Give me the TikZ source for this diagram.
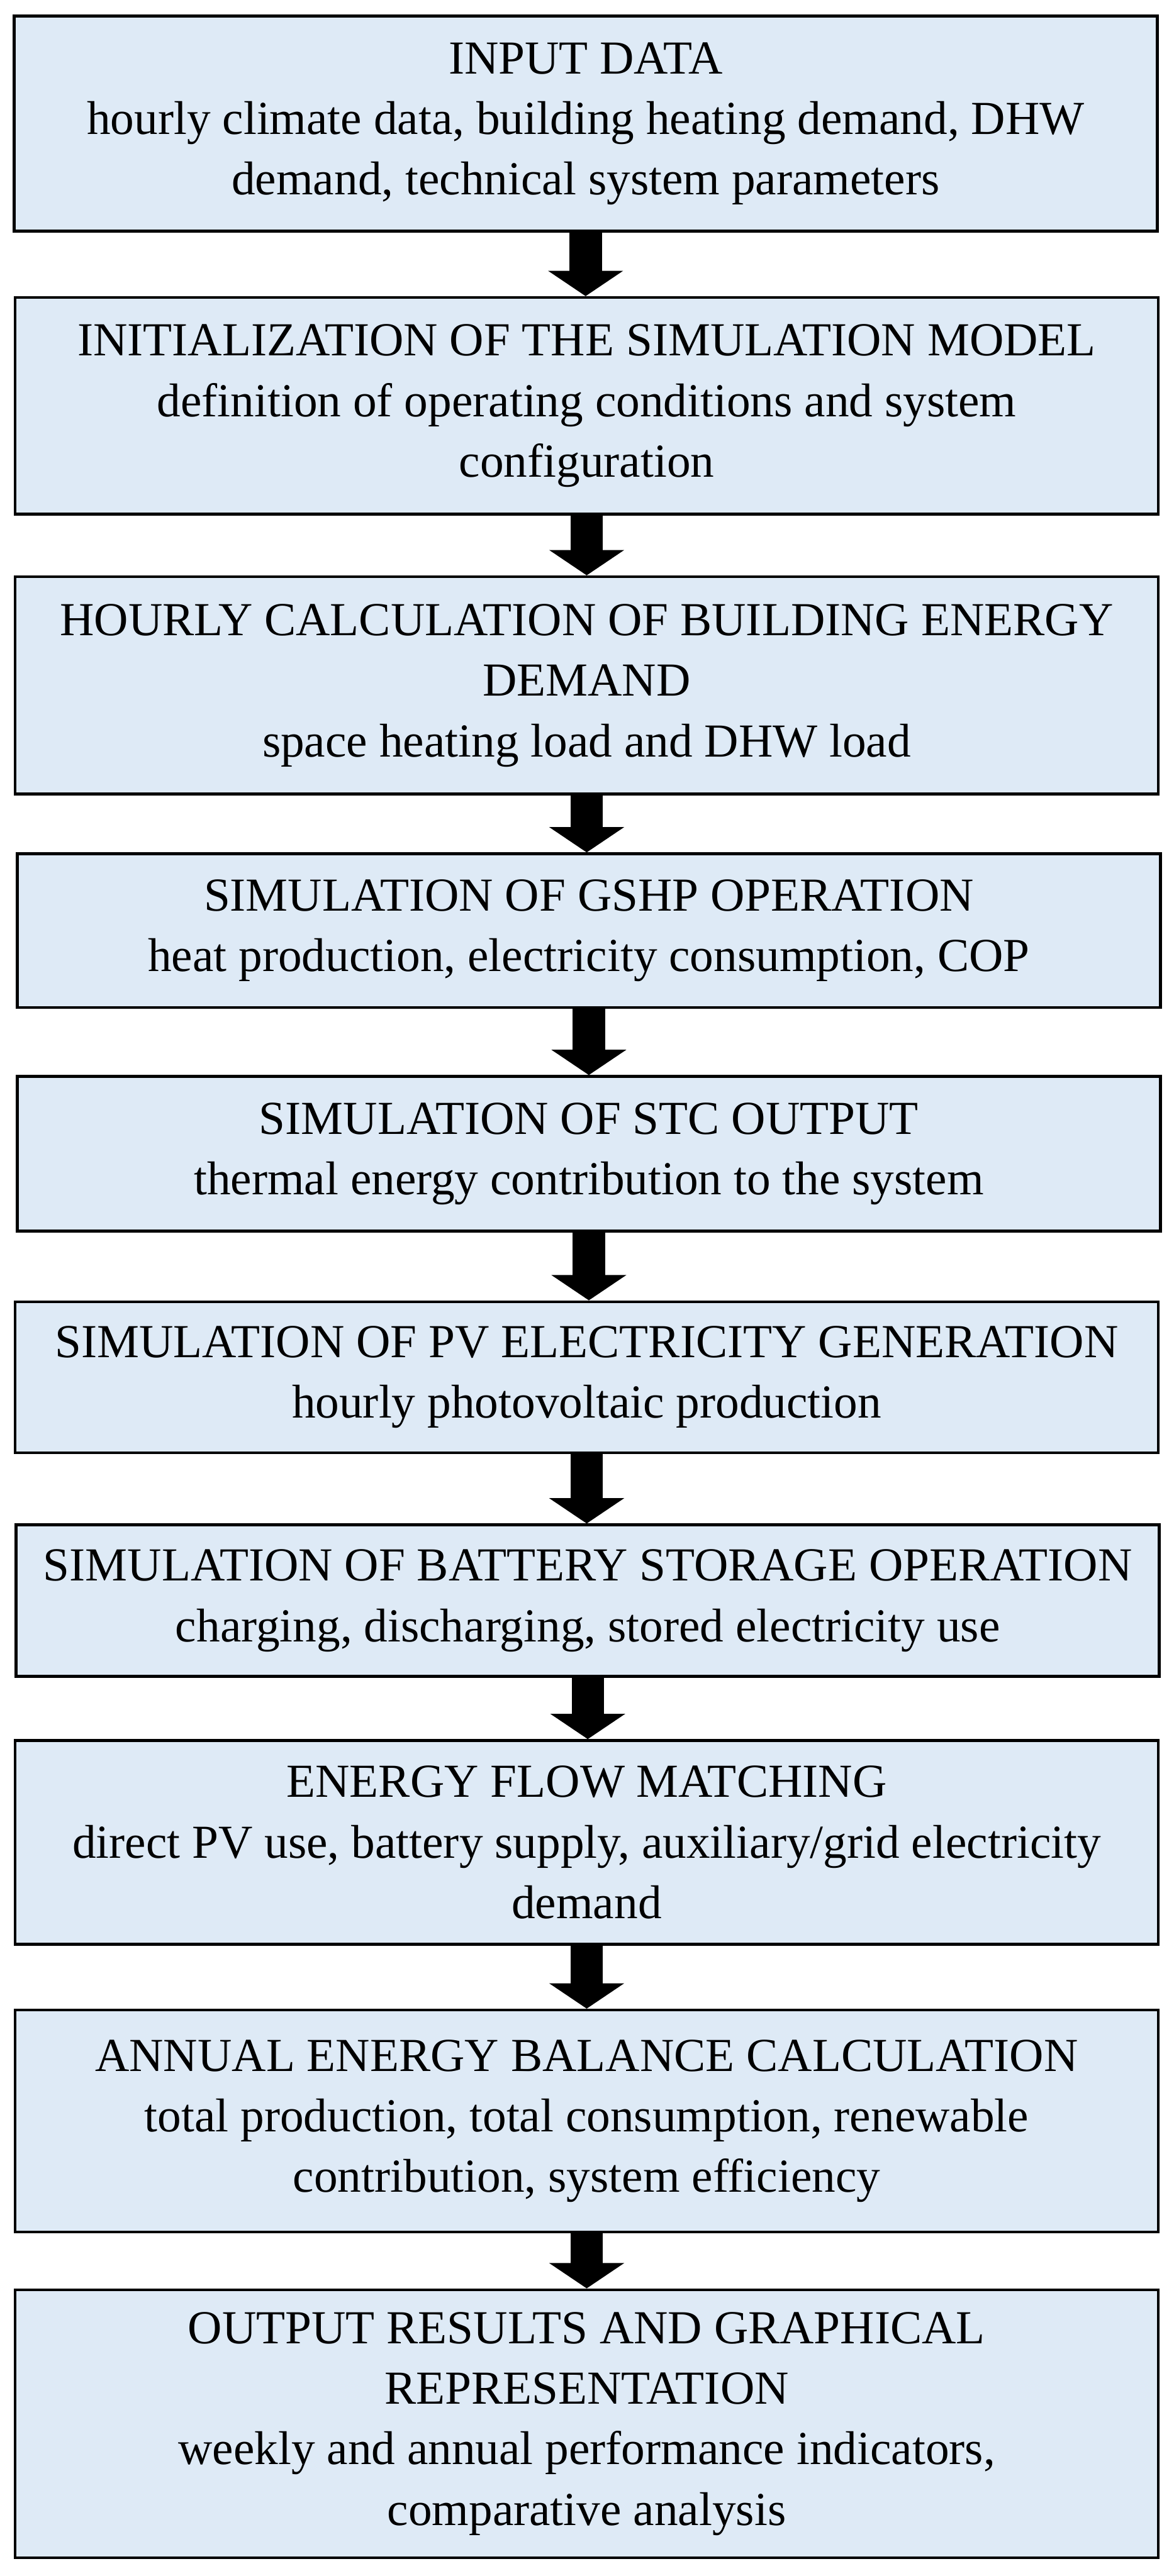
\documentclass[tikz,border=0pt]{standalone}
\usepackage{fontspec}
\setmainfont{Liberation Serif}
\usetikzlibrary{arrows.meta}
\definecolor{stageblue}{HTML}{DEEAF6}

\begin{document}
\begin{tikzpicture}[font=\fontsize{25}{32}\selectfont,
  stage/.style={draw=black, line width=1.5pt, fill=stageblue, align=center, minimum width=21.2cm, inner sep=0pt},
  flow/.style={line width=0.6cm, -{Triangle[width=1.37cm, length=0.47cm]}}]
  \useasboundingbox (0,0) rectangle (21.77,-47.79);
  % etapas del modelo
  \node[stage, minimum height=3.99cm] (input) at (10.86,-2.295) {INPUT DATA\\hourly climate data, building heating demand, DHW\\demand, technical system parameters};
  \node[stage, minimum height=4.02cm] (init) at (10.88,-7.53) {INITIALIZATION OF THE SIMULATION MODEL\\definition of operating conditions and system\\configuration};
  \node[stage, minimum height=4.03cm] (demand) at (10.88,-12.715) {HOURLY CALCULATION OF BUILDING ENERGY\\DEMAND\\space heating load and DHW load};
  \node[stage, minimum height=2.85cm] (gshp) at (10.92,-17.265) {SIMULATION OF GSHP OPERATION\\heat production, electricity consumption, COP};
  \node[stage, minimum height=2.87cm] (stc) at (10.92,-21.405) {SIMULATION OF STC OUTPUT\\thermal energy contribution to the system};
  \node[stage, minimum height=2.80cm] (pv) at (10.88,-25.55) {SIMULATION OF PV ELECTRICITY GENERATION\\hourly photovoltaic production};
  \node[stage, minimum height=2.81cm] (battery) at (10.90,-29.695) {SIMULATION OF BATTERY STORAGE OPERATION\\charging, discharging, stored electricity use};
  \node[stage, minimum height=3.78cm] (matching) at (10.88,-34.18) {ENERGY FLOW MATCHING\\direct PV use, battery supply, auxiliary/grid electricity\\demand};
  \node[stage, minimum height=4.12cm] (balance) at (10.88,-39.35) {ANNUAL ENERGY BALANCE CALCULATION\\total production, total consumption, renewable\\contribution, system efficiency};
  \node[stage, minimum height=4.97cm] (output) at (10.88,-44.965) {OUTPUT RESULTS AND GRAPHICAL\\REPRESENTATION\\weekly and annual performance indicators,\\comparative analysis};
  % flechas entre etapas
  \foreach \a/\b in {input/init, init/demand, demand/gshp, gshp/stc, stc/pv, pv/battery, battery/matching, matching/balance, balance/output}
    \draw[flow] (\a.south) -- (\a.south |- \b.north);
\end{tikzpicture}
\end{document}
